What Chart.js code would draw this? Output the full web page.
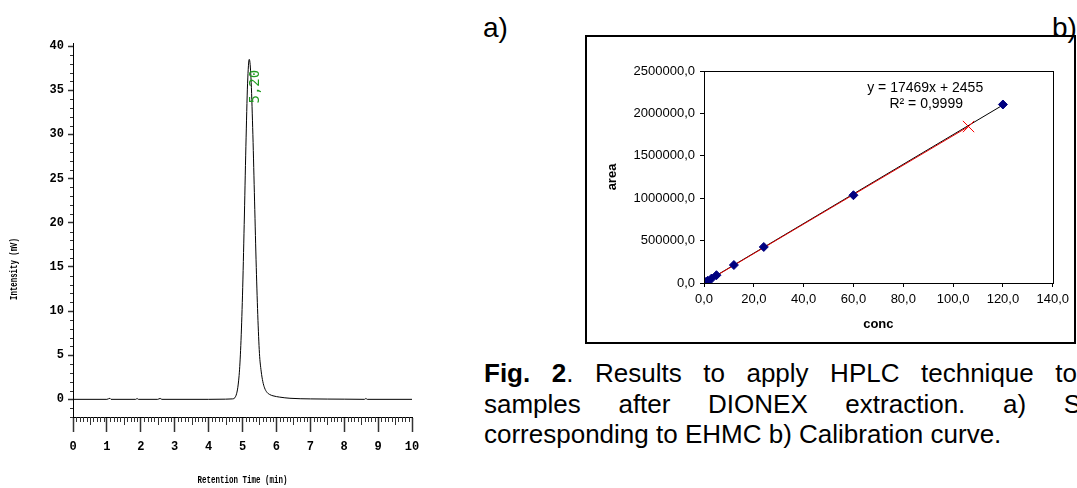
<!DOCTYPE html>
<html>
<head>
<meta charset="utf-8">
<script src="https://cdn.jsdelivr.net/npm/chart.js@4.4.0/dist/chart.umd.min.js"></script>
<style>
  html, body { margin: 0; padding: 0; background: #fff; }
  body { width: 1077px; height: 488px; position: relative; overflow: hidden; font-family: Arial, "Liberation Sans", sans-serif; color: #000; }
  #c1 { position: absolute; left: 0; top: 0; }
  #caixa { position: absolute; left: 585px; top: 35px; width: 487px; height: 305px; border: 2px solid #000; }
  #c2 { position: absolute; left: 587px; top: 37px; }
  .rot { position: absolute; font-size: 28px; line-height: 28px; }
  .leg { position: absolute; left: 484px; font-size: 26px; line-height: 32px; }
  .just { text-align: justify; text-align-last: justify; }
</style>
</head>
<body>
<canvas id="c1" width="440" height="488"></canvas>
<div class="rot" style="left:483px; top:14px;">a)</div>
<div class="rot" style="left:1052px; top:14px;">b)</div>
<div id="caixa"></div>
<canvas id="c2" width="487" height="305"></canvas>
<div class="leg just" style="top:357px; width:593px;"><b>Fig. 2</b>. Results to apply HPLC technique to</div>
<div class="leg just" style="top:388px; width:597px;">samples after DIONEX extraction. a) S</div>
<div class="leg" style="top:418px; white-space:nowrap;">corresponding to EHMC b) Calibration curve.</div>

<script>
// a) cromatograma
var tempo = [0, 1.0, 1.09, 1.12, 1.85, 1.89, 1.93, 2.5, 2.57, 2.62, 4.0, 4.5, 4.7, 4.8, 4.9, 4.95,
             5.0, 5.05, 5.1, 5.15, 5.2, 5.25, 5.3, 5.35, 5.4, 5.45, 5.5, 5.55, 5.6, 5.65, 5.72,
             5.8, 5.9, 6.1, 6.4, 7.0, 8.0, 8.6, 8.64, 8.68, 10];
var intensidade = [0, 0, 0.12, 0, 0, 0.1, 0, 0, 0.1, 0, 0, 0.02, 0.05, 0.35, 2.7, 6.1,
                   11.8, 19.8, 28.6, 35.8, 38.5, 36.4, 30.8, 23.4, 15.8, 9.6, 5.2, 3.2, 2.0, 1.3, 0.8,
                   0.55, 0.4, 0.25, 0.12, 0.05, 0.02, 0, 0.1, 0, 0];
var xTicksA = [0, 1, 2, 3, 4, 5, 6, 7, 8, 9, 10];
var yTicksA = [0, 5, 10, 15, 20, 25, 30, 35, 40];

// b) curva de calibracao
var conc = [0.5, 1.5, 3, 5, 12, 24, 60, 120];
var area = [10500, 27000, 52000, 92000, 212000, 425000, 1035000, 2105000];
var amostraConc = [106.2];
var amostraArea = [1845000];
var retaConc = [0, 120];
var retaArea = [2455, 2098735];
var retaAmostraConc = [0, 106.2];
var retaAmostraArea = [0, 1845000];
var xTicksB = [0, 20, 40, 60, 80, 100, 120, 140];
var yTicksB = [0, 500000, 1000000, 1500000, 2000000, 2500000];

var mono = '"Liberation Mono", "DejaVu Sans Mono", monospace';
var arial = 'Arial, "Liberation Sans", sans-serif';

function pares(xs, ys) {
    return xs.map(function (v, i) { return { x: v, y: ys[i] }; });
}
function virgula(v) {
    return Number(v).toFixed(1).replace('.', ',');
}

var detalhesA = {
    id: 'detalhesA',
    afterDraw: function (chart) {
        var ctx = chart.ctx, x = chart.scales.x, y = chart.scales.y, ca = chart.chartArea;
        ctx.save();
        // tracinhos menores
        ctx.strokeStyle = '#333';
        ctx.lineWidth = 1;
        ctx.beginPath();
        for (var i = 1; i < 100; i++) {
            if (i % 10 === 0) continue;
            var px = Math.round(x.getPixelForValue(i / 10)) + 0.5;
            var len = (i % 5 === 0) ? 8 : 5;
            ctx.moveTo(px, ca.bottom);
            ctx.lineTo(px, ca.bottom + len);
        }
        for (var v = -2; v <= 40; v++) {
            if (v % 5 === 0) continue;
            var py = Math.round(y.getPixelForValue(v)) + 0.5;
            ctx.moveTo(ca.left - 3, py);
            ctx.lineTo(ca.left, py);
        }
        ctx.stroke();

        // titulos dos eixos
        ctx.fillStyle = '#000';
        ctx.font = 'bold 11px ' + mono;
        ctx.textAlign = 'center';
        ctx.textBaseline = 'middle';
        ctx.save();
        ctx.translate((ca.left + ca.right) / 2, 480);
        ctx.scale(0.68, 1.05);
        ctx.fillText('Retention Time (min)', 0, 0);
        ctx.restore();
        ctx.save();
        ctx.translate(14, 269);
        ctx.rotate(-Math.PI / 2);
        ctx.scale(0.67, 1.05);
        ctx.fillText('Intensity (mV)', 0, 0);
        ctx.restore();

        // rotulo do pico
        ctx.save();
        ctx.fillStyle = '#1f9a1f';
        ctx.font = '14px "DejaVu Sans Mono", monospace';
        ctx.translate(x.getPixelForValue(5.2) + 6, y.getPixelForValue(33.5));
        ctx.rotate(-Math.PI / 2);
        ctx.textAlign = 'left';
        ctx.fillText('5,20', 0, 0);
        ctx.restore();
        ctx.restore();
    }
};

new Chart(document.getElementById('c1'), {
    type: 'line',
    data: {
        datasets: [{
            data: pares(tempo, intensidade),
            borderColor: '#000',
            borderWidth: 1,
            pointRadius: 0,
            cubicInterpolationMode: 'monotone',
            fill: false
        }]
    },
    options: {
        responsive: false,
        animation: false,
        layout: { padding: { left: 0, right: 28, top: 43, bottom: 0 } },
        plugins: { legend: { display: false }, tooltip: { enabled: false } },
        scales: {
            x: {
                type: 'linear', min: 0, max: 10,
                afterBuildTicks: function (s) { s.ticks = xTicksA.map(function (v) { return { value: v }; }); },
                afterFit: function (s) { s.height = 71; },
                grid: { drawOnChartArea: false, tickLength: 15, tickColor: '#333', tickWidth: 1.5 },
                border: { color: '#000', width: 1 },
                ticks: { font: { family: mono, size: 12, weight: 'bold' }, color: '#000', padding: 8, maxRotation: 0, autoSkip: false }
            },
            y: {
                type: 'linear', min: -2, max: 40.35,
                afterBuildTicks: function (s) { s.ticks = yTicksA.map(function (v) { return { value: v }; }); },
                afterFit: function (s) { s.width = 73; },
                grid: { drawOnChartArea: false, tickLength: 5, tickColor: '#333', tickWidth: 1.5 },
                border: { color: '#000', width: 1 },
                ticks: { font: { family: mono, size: 12, weight: 'bold' }, color: '#000', padding: 4, autoSkip: false }
            }
        }
    },
    plugins: [detalhesA]
});

var detalhesB = {
    id: 'detalhesB',
    afterDraw: function (chart) {
        var ctx = chart.ctx, x = chart.scales.x, y = chart.scales.y, ca = chart.chartArea;
        ctx.save();
        ctx.strokeStyle = '#000';
        ctx.lineWidth = 1;
        ctx.strokeRect(Math.round(ca.left) + 0.5, Math.round(ca.top) + 0.5,
                       Math.round(ca.right - ca.left), Math.round(ca.bottom - ca.top));
        ctx.fillStyle = '#000';
        ctx.textAlign = 'center';
        ctx.textBaseline = 'middle';
        ctx.font = 'bold 13px ' + arial;
        ctx.fillText('conc', (ca.left + ca.right) / 2, 287);
        ctx.save();
        ctx.translate(25, (ca.top + ca.bottom) / 2);
        ctx.rotate(-Math.PI / 2);
        ctx.fillText('area', 0, 0);
        ctx.restore();
        ctx.font = '14px ' + arial;
        ctx.fillText('y = 17469x + 2455', x.getPixelForValue(88.8), y.getPixelForValue(2300000));
        ctx.fillText('R\u00b2 = 0,9999', x.getPixelForValue(89.2), y.getPixelForValue(2110000));
        ctx.restore();
    }
};

new Chart(document.getElementById('c2'), {
    type: 'scatter',
    data: {
        datasets: [
            {
                data: pares(conc, area),
                pointStyle: 'rectRot', pointRadius: 4.5,
                backgroundColor: '#000080', borderColor: '#000080', borderWidth: 1
            },
            {
                data: pares(amostraConc, amostraArea),
                pointStyle: 'crossRot', pointRadius: 8,
                borderColor: '#ff0000', borderWidth: 1
            },
            {
                data: pares(retaAmostraConc, retaAmostraArea),
                showLine: true, pointRadius: 0, borderColor: '#e00000', borderWidth: 1
            },
            {
                data: pares(retaConc, retaArea),
                showLine: true, pointRadius: 0, borderColor: '#000', borderWidth: 1
            }
        ]
    },
    options: {
        responsive: false,
        animation: false,
        layout: { padding: { left: 0, right: 16, top: 34, bottom: 0 } },
        plugins: { legend: { display: false }, tooltip: { enabled: false } },
        scales: {
            x: {
                type: 'linear', min: 0, max: 140,
                afterBuildTicks: function (s) { s.ticks = xTicksB.map(function (v) { return { value: v }; }); },
                afterFit: function (s) { s.height = 59; },
                grid: { drawOnChartArea: false, tickLength: 4, tickColor: '#000' },
                border: { color: '#000', width: 1 },
                ticks: { font: { family: arial, size: 13 }, color: '#000', padding: 5, maxRotation: 0, autoSkip: false, callback: virgula }
            },
            y: {
                type: 'linear', min: 0, max: 2500000,
                afterBuildTicks: function (s) { s.ticks = yTicksB.map(function (v) { return { value: v }; }); },
                afterFit: function (s) { s.width = 117; },
                grid: { drawOnChartArea: false, tickLength: 4, tickColor: '#000' },
                border: { color: '#000', width: 1 },
                ticks: { font: { family: arial, size: 13 }, color: '#000', padding: 5, autoSkip: false, callback: virgula }
            }
        }
    },
    plugins: [detalhesB]
});
</script>
</body>
</html>
